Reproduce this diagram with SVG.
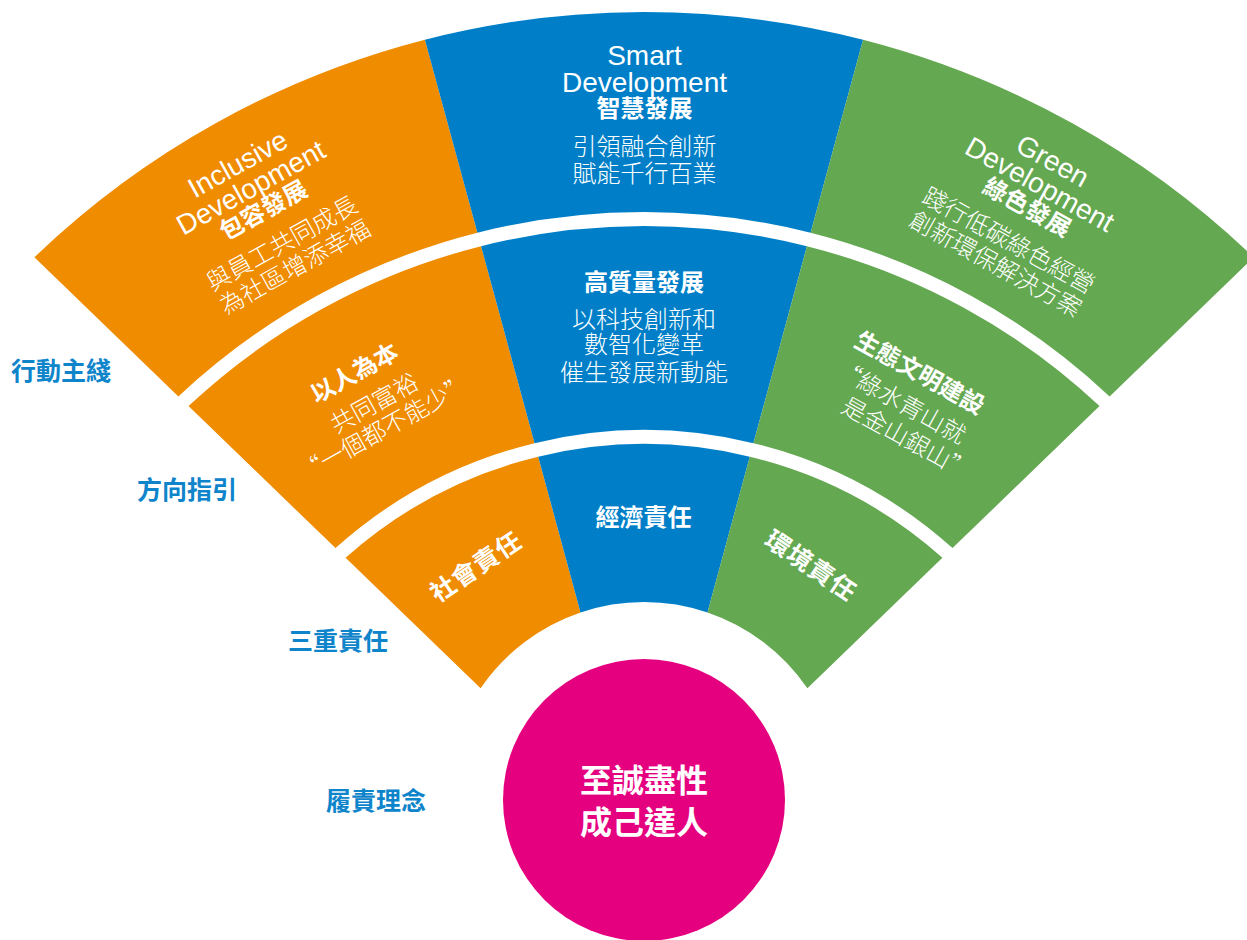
<svg xmlns="http://www.w3.org/2000/svg" width="1247" height="940" viewBox="0 0 1247 940">
<style>
.or{fill:#F08C00}.bl{fill:#007FC8}.gr{fill:#64A851}.pk{fill:#E4007F}
.en{font-family:"Liberation Sans",Arial,sans-serif;font-size:28px;fill:#fff;text-anchor:middle}
.cb{font-family:"Noto Sans CJK TC","Noto Sans CJK SC",sans-serif;font-weight:700;font-size:24px;fill:#fff;text-anchor:middle}
.cl{font-family:"Noto Sans CJK TC","Noto Sans CJK SC",sans-serif;font-weight:300;font-size:24px;fill:#fff;text-anchor:middle}
.lab{font-family:"Noto Sans CJK TC","Noto Sans CJK SC",sans-serif;font-weight:700;font-size:25px;fill:#0E84CB}
.ct{font-family:"Noto Sans CJK TC","Noto Sans CJK SC",sans-serif;font-weight:700;font-size:32px;fill:#fff;text-anchor:middle}
</style>
<rect width="1247" height="940" fill="#fff"/>

<g id="outer-inclusive">
<path class="or" d="M34.4,257.3 A880,880 0 0 1 424.9,39.7 L477.4,232.7 A680,680 0 0 0 178.4,396.4 Z"/>
<g transform="translate(237.5,163.5) rotate(-29)">
<text class="en" x="0" y="10">Inclusive</text>
<text class="en" x="0" y="37">Development</text>
<text class="cb" x="0" y="62">包容發展</text>
<text class="cl" x="0" y="100">與員工共同成長</text>
<text class="cl" x="0" y="127">為社區增添幸福</text>
</g>
</g>

<g id="outer-smart">
<path class="bl" d="M424.9,39.7 A880,880 0 0 1 863.1,39.7 L810.6,232.7 A680,680 0 0 0 477.4,232.7 Z"/>
<g transform="translate(644.5,54.5)">
<text class="en" x="0" y="10">Smart</text>
<text class="en" x="0" y="37">Development</text>
<text class="cb" x="0" y="62">智慧發展</text>
<text class="cl" x="0" y="100">引領融合創新</text>
<text class="cl" x="0" y="127">賦能千行百業</text>
</g>
</g>

<g id="outer-green">
<path class="gr" d="M863.1,39.7 A880,880 0 0 1 1253.6,257.3 L1109.6,396.4 A680,680 0 0 0 810.6,232.7 Z"/>
<g transform="translate(1053,160.5) rotate(29)">
<text class="en" x="0" y="10">Green</text>
<text class="en" x="0" y="37">Development</text>
<text class="cb" x="0" y="62">綠色發展</text>
<text class="cl" x="0" y="100">踐行低碳綠色經營</text>
<text class="cl" x="0" y="127">創新環保解決方案</text>
</g>
</g>

<g id="middle-people">
<path class="or" d="M188.5,406.1 A666,666 0 0 1 481.05,246.2 L534.55,443.15 A462,462 0 0 0 335.5,548.1 Z"/>
<g transform="translate(354.2,372.5) rotate(-29)">
<text class="cb" x="0" y="9">以人為本</text>
<text class="cl" x="2.5" y="45">共同富裕</text>
<text class="cl" x="-0.3" y="72">“一個都不能少”</text>
</g>
</g>

<g id="middle-quality">
<path class="bl" d="M481.05,246.2 A666,666 0 0 1 806.95,246.2 L753.45,443.15 A462,462 0 0 0 534.55,443.15 Z"/>
<g transform="translate(644,282)">
<text class="cb" x="0" y="9">高質量發展</text>
<text class="cl" x="0" y="46">以科技創新和</text>
<text class="cl" x="0" y="71">數智化變革</text>
<text class="cl" x="0" y="98.5">催生發展新動能</text>
</g>
</g>

<g id="middle-eco">
<path class="gr" d="M806.95,246.2 A666,666 0 0 1 1099.5,406.1 L952.5,548.1 A462,462 0 0 0 753.45,443.15 Z"/>
<g transform="translate(920,372.5) rotate(29)">
<text class="cb" x="0" y="9">生態文明建設</text>
<text class="cl" x="70" y="43.6" style="text-anchor:end">“綠水青山就</text>
<text class="cl" x="-51.5" y="72.8" style="text-anchor:start">是金山銀山”</text>
</g>
</g>

<g id="inner-social">
<path class="or" d="M345.6,557.8 A448,448 0 0 1 538.2,456.7 L580.5,612.45 A198,198 0 0 0 480.6,688.2 Z"/>
<text class="cb" transform="translate(475.8,566.7) rotate(-34)" x="0" y="9" style="font-size:25px;letter-spacing:1px">社會責任</text>
</g>

<g id="inner-economic">
<path class="bl" d="M538.2,456.7 A448,448 0 0 1 749.8,456.7 L707.5,612.45 A198,198 0 0 0 580.5,612.45 Z"/>
<text class="cb" x="643.5" y="526">經濟責任</text>
</g>

<g id="inner-environment">
<path class="gr" d="M749.8,456.7 A448,448 0 0 1 942.4,557.8 L807.4,688.2 A198,198 0 0 0 707.5,612.45 Z"/>
<text class="cb" transform="translate(811,565.5) rotate(34)" x="0" y="9" style="font-size:25px;letter-spacing:1px">環境責任</text>
</g>

<g id="core">
<circle class="pk" cx="644" cy="800" r="141"/>
<text class="ct" x="644" y="792">至誠盡性</text>
<text class="ct" x="644" y="834">成己達人</text>
</g>

<g id="labels">
<text class="lab" x="11" y="380">行動主綫</text>
<text class="lab" x="137" y="499">方向指引</text>
<text class="lab" x="288" y="650">三重責任</text>
<text class="lab" x="326" y="810">履責理念</text>
</g>

<g id="connectors"></g>
</svg>
